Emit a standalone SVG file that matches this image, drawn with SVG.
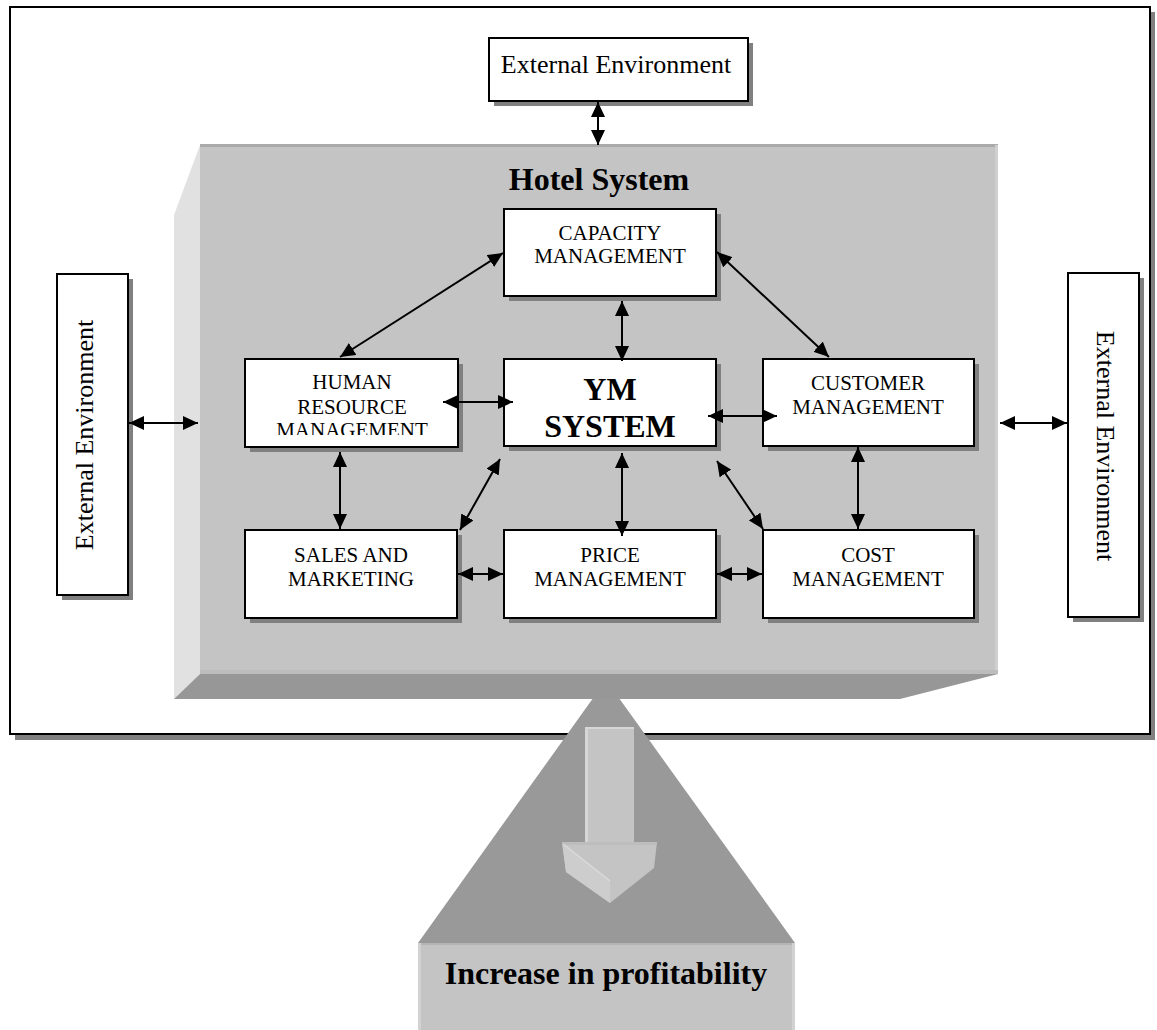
<svg xmlns="http://www.w3.org/2000/svg" width="1157" height="1030" viewBox="0 0 1157 1030">
<style>
.box{fill:#fff;stroke:#000;stroke-width:2}
.sh{fill:#808080}
.t{font-family:"Liberation Serif","Times New Roman",serif;font-size:21px;fill:#000;text-anchor:middle}
.ext{font-family:"Liberation Serif","Times New Roman",serif;font-size:26px;fill:#000;text-anchor:middle}
.b{font-family:"Liberation Serif","Times New Roman",serif;font-weight:bold;font-size:32px;fill:#000;text-anchor:middle}
.c{stroke:#000;stroke-width:2;fill:none;marker-start:url(#ah);marker-end:url(#ah)}
</style>
<defs>
<marker id="ah" markerWidth="15" markerHeight="14" refX="15" refY="7" orient="auto-start-reverse" markerUnits="userSpaceOnUse"><path d="M0,0 L15,7 L0,14 z" fill="#000"/></marker>
<clipPath id="hrclip"><rect x="245" y="359" width="213" height="76"/></clipPath>
</defs>
<rect width="1157" height="1030" fill="#fff"/>
<g id="frame">
<rect x="15" y="12" width="1140" height="728" class="sh"/>
<rect x="10" y="7" width="1140" height="727" fill="#fff" stroke="#000" stroke-width="2"/>
</g>
<g id="outcome">
<polygon points="606,680 418,943 795,943" fill="#999"/>
<rect x="418" y="943" width="377" height="87" fill="#c4c4c4"/>
<rect x="418" y="943" width="377" height="2" fill="#b4b4b4"/>
<rect x="418" y="943" width="3" height="87" fill="#d2d2d2"/>
<rect x="792" y="943" width="3" height="87" fill="#d2d2d2"/>
<text x="606" y="984" class="b">Increase in profitability</text>
</g>
<g id="hotel-system">
<polygon points="174,215 200,145 200,674 174,699" fill="#e1e1e1"/>
<polygon points="174,699 200,674 998,674 900,699" fill="#979797"/>
<rect x="200" y="145" width="798" height="529" fill="#c4c4c4"/>
<rect x="200" y="144" width="798" height="3" fill="#aaa"/>
<rect x="995" y="145" width="3" height="529" fill="#d0d0d0"/>
<rect x="200" y="670" width="798" height="4" fill="#bcbcbc"/>
<text x="599" y="190" class="b">Hotel System</text>
</g>
<g id="profit-arrow">
<rect x="585" y="727" width="49" height="116" fill="#c4c4c4"/>
<rect x="585" y="727" width="3" height="116" fill="#d6d6d6"/>
<rect x="585" y="727" width="49" height="2" fill="#d6d6d6"/>
<polygon points="562,842 657,842 654,868 610,903 566,872" fill="#c4c4c4"/>
<polygon points="562,842 610,880 610,903 566,872" fill="#cdcdcd"/>
<polygon points="562,842 657,842 657,845 562,845" fill="#bdbdbd"/>
<line x1="563" y1="844" x2="610" y2="881" stroke="#dadada" stroke-width="1.5"/>
</g>
<g id="ext-top">
<rect x="494" y="43" width="259" height="63" class="sh"/>
<rect x="489" y="38" width="259" height="63" class="box"/>
<text x="616" y="73" class="ext">External Environment</text>
</g>
<g id="ext-left">
<rect x="62" y="279" width="71" height="321" class="sh"/>
<rect x="57" y="274" width="71" height="321" class="box"/>
<text transform="translate(93,435) rotate(-90)" class="ext">External Environment</text>
</g>
<g id="ext-right">
<rect x="1073" y="278" width="71" height="344" class="sh"/>
<rect x="1068" y="273" width="71" height="344" class="box"/>
<text transform="translate(1097,446) rotate(90)" class="ext">External Environment</text>
</g>
<g id="capacity">
<rect x="509" y="214" width="212" height="87" class="sh"/>
<rect x="504" y="209" width="212" height="87" class="box"/>
<text x="610" y="240" class="t">CAPACITY</text>
<text x="610" y="263" class="t">MANAGEMENT</text>
</g>
<g id="human-resource">
<rect x="250" y="364" width="213" height="88" class="sh"/>
<rect x="245" y="359" width="213" height="88" class="box"/>
<g clip-path="url(#hrclip)">
<text x="352" y="389" class="t">HUMAN</text>
<text x="352" y="414" class="t">RESOURCE</text>
<text x="352" y="437" class="t">MANAGEMENT</text>
</g>
</g>
<g id="ym-system">
<rect x="509" y="364" width="212" height="87" class="sh"/>
<rect x="504" y="359" width="212" height="87" class="box"/>
<text x="610" y="400" class="b">YM</text>
<text x="610" y="437" class="b">SYSTEM</text>
</g>
<g id="customer">
<rect x="768" y="364" width="211" height="87" class="sh"/>
<rect x="763" y="359" width="211" height="87" class="box"/>
<text x="868" y="390" class="t">CUSTOMER</text>
<text x="868" y="414" class="t">MANAGEMENT</text>
</g>
<g id="sales">
<rect x="250" y="535" width="212" height="88" class="sh"/>
<rect x="245" y="530" width="212" height="88" class="box"/>
<text x="351" y="562" class="t">SALES AND</text>
<text x="351" y="586" class="t">MARKETING</text>
</g>
<g id="price">
<rect x="509" y="535" width="212" height="88" class="sh"/>
<rect x="504" y="530" width="212" height="88" class="box"/>
<text x="610" y="562" class="t">PRICE</text>
<text x="610" y="586" class="t">MANAGEMENT</text>
</g>
<g id="cost">
<rect x="768" y="535" width="211" height="88" class="sh"/>
<rect x="763" y="530" width="211" height="88" class="box"/>
<text x="868" y="562" class="t">COST</text>
<text x="868" y="586" class="t">MANAGEMENT</text>
</g>
<g id="connectors">
<line class="c" x1="598" y1="102" x2="598" y2="145"/>
<line class="c" x1="129" y1="423" x2="198" y2="423"/>
<line class="c" x1="1000" y1="423" x2="1067" y2="423"/>
<line class="c" x1="340" y1="357" x2="503" y2="253"/>
<line class="c" x1="717" y1="252" x2="829" y2="357"/>
<line class="c" x1="622" y1="301" x2="622" y2="361"/>
<line class="c" x1="443" y1="402" x2="513" y2="402"/>
<line class="c" x1="708" y1="416" x2="777" y2="416"/>
<line class="c" x1="340" y1="452" x2="340" y2="529"/>
<line class="c" x1="460" y1="530" x2="500" y2="459"/>
<line class="c" x1="622" y1="453" x2="622" y2="536"/>
<line class="c" x1="717" y1="461" x2="763" y2="529"/>
<line class="c" x1="858" y1="447" x2="858" y2="529"/>
<line class="c" x1="458" y1="574" x2="503" y2="574"/>
<line class="c" x1="717" y1="574" x2="762" y2="574"/>
</g>
</svg>
